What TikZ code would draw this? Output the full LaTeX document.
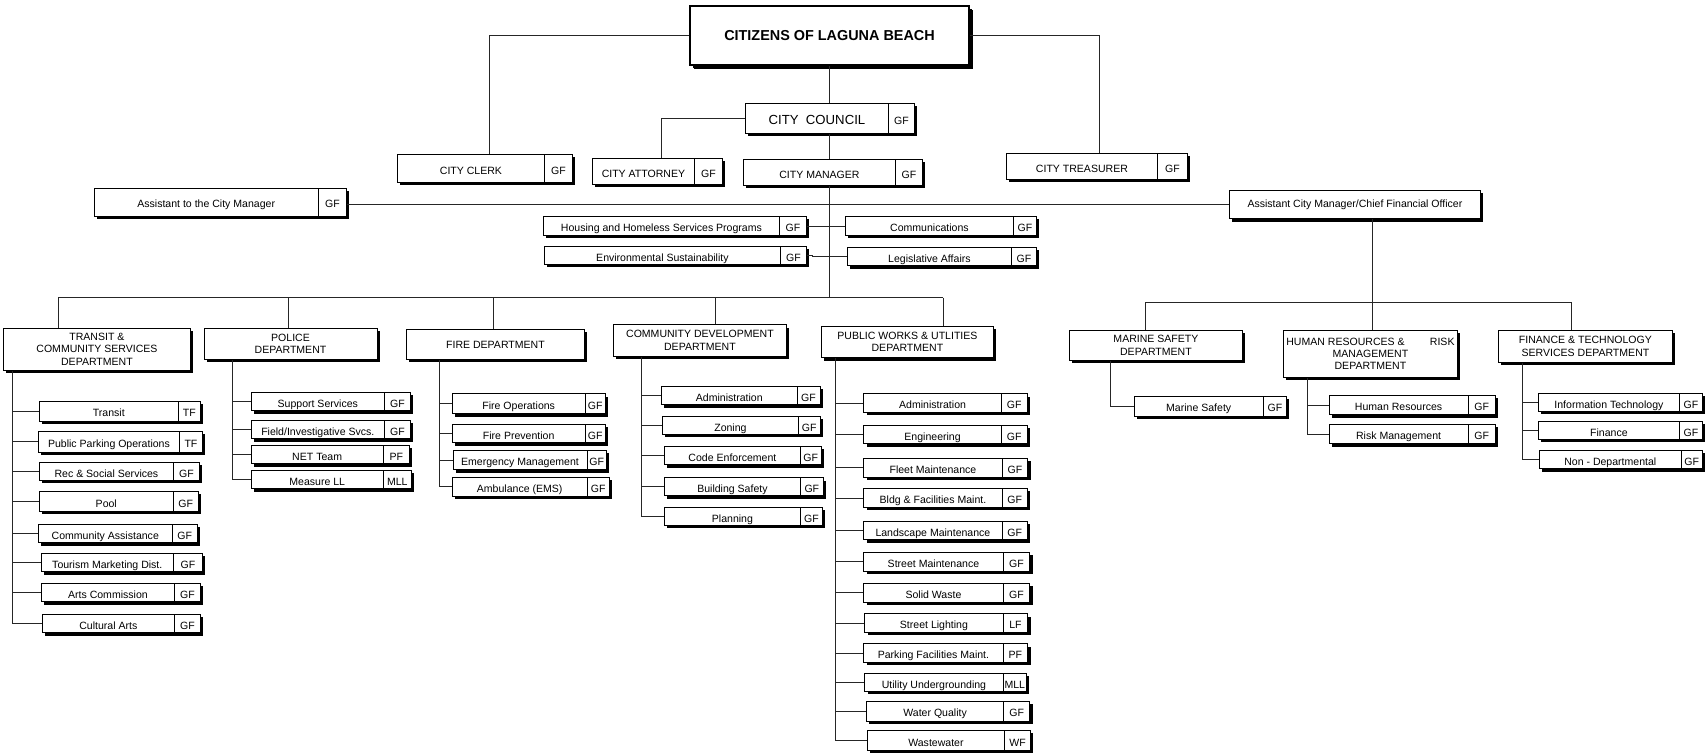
\documentclass[tikz,border=0pt]{standalone}
\usepackage{fontspec}
\setmainfont{Liberation Sans}
\usetikzlibrary{shadows,calc}

\tikzset{
  box/.style={draw, fill=white, line width=0.5pt, inner sep=0pt, align=center,
    font=\fontsize{6}{7}\selectfont,
    drop shadow={shadow xshift=0.06cm, shadow yshift=-0.06cm, fill=black, opacity=1}},
  cell/.style={box, text height=1.6ex, text depth=0.35ex},
  topbox/.style={box, line width=1.3pt, font=\bfseries\fontsize{8.2}{10}\selectfont,
    drop shadow={shadow xshift=0.08cm, shadow yshift=-0.08cm, fill=black, opacity=1}},
  link/.style={draw=black!85, line width=0.5pt},
}

% unit with a fund cell: name, left, top, divider, right, bottom, label, fund
\newcommand{\orgbox}[8]{%
  \pgfmathsetmacro\bwa{(#4-#2)*0.02}%
  \pgfmathsetmacro\bwb{(#5-#4)*0.02}%
  \pgfmathsetmacro\bht{(#6-#3)*0.02}%
  \node[cell, minimum width=\bwa cm, minimum height=\bht cm, anchor=north west] (#1) at (#2,#3) {#7};
  \node[cell, minimum width=\bwb cm, minimum height=\bht cm, anchor=north west] (#1-c) at (#4,#3) {#8};
}
% department heading: name, left, top, right, bottom, label
\newcommand{\deptbox}[6]{%
  \pgfmathsetmacro\bwa{(#4-#2)*0.02}%
  \pgfmathsetmacro\bht{(#5-#3)*0.02}%
  \node[box, minimum width=\bwa cm, minimum height=\bht cm, anchor=north west] (#1) at (#2,#3) {#6};
}

\begin{document}
\begin{tikzpicture}[x=0.02cm, y=-0.02cm]
    % page
    \fill[white] (0,0) rectangle (1705,755);
    \useasboundingbox (0,0) rectangle (1705,755);

    % Top of the chart
    \node[topbox, minimum width=5.58cm, minimum height=1.18cm] (citizens) at (829.5,35.5) {CITIZENS OF LAGUNA BEACH};
    \orgbox{council}{745}{103}{888}{914}{132.7}{\fontsize{7.5}{9}\selectfont CITY\ \ COUNCIL}{GF}
    \orgbox{clerk}{397}{154}{544}{572}{182}{CITY CLERK}{GF}
    \orgbox{attorney}{592}{158}{694}{722}{184}{CITY ATTORNEY}{GF}
    \orgbox{manager}{743}{159}{895}{922}{185}{CITY MANAGER}{GF}
    \orgbox{treasurer}{1006}{153}{1157}{1187}{179}{CITY TREASURER}{GF}

    \draw[link] (citizens.west) -| ($(clerk.north west)+(92,0)$);
    \draw[link] (citizens.east) -| ($(treasurer.north west)+(93,0)$);
    \draw[link] (citizens.south) -- (citizens.south |- council.north);
    \draw[link] (council.west) -| ($(attorney.north west)+(69,0)$);
    \draw[link] (citizens.south |- council.south) -- (citizens.south |- manager.north);

    % Offices of the City Manager
    \orgbox{asst}{93.5}{187.5}{318}{346}{215.7}{Assistant to the City Manager}{GF}
    \deptbox{acm}{1229}{190}{1480}{218.3}{Assistant City Manager/Chief Financial Officer}
    \orgbox{housing}{543}{216}{779}{806}{235}{Housing and Homeless Services Programs}{GF}
    \orgbox{comms}{845}{216}{1013}{1036}{235}{Communications}{GF}
    \orgbox{env}{544}{245.7}{780}{806}{263.3}{Environmental Sustainability}{GF}
    \orgbox{legis}{847}{246.7}{1011}{1036}{265.3}{Legislative Affairs}{GF}

    \coordinate (bus) at (829.5,297.5);
    \draw[link] (citizens.south |- manager.south) -- (bus);
    \draw[link] (acm.west -| asst-c.east) -- (acm.west);
    \draw[link] (housing-c.east) -- (comms.west);
    \draw[link] (env-c.east) -- ++(6,0) |- (legis.west);

    % Departments
    \deptbox{transit}{3}{327.7}{190}{370}{TRANSIT \&\\COMMUNITY SERVICES\\DEPARTMENT}
    \deptbox{police}{203.5}{327.7}{376.6}{359}{POLICE\\DEPARTMENT}
    \deptbox{fire}{406}{329}{584}{359}{FIRE DEPARTMENT}
    \deptbox{cd}{613}{324.3}{786}{355.7}{COMMUNITY DEVELOPMENT\\DEPARTMENT}
    \deptbox{pw}{821}{325.7}{993}{357.3}{PUBLIC WORKS \& UTLITIES\\DEPARTMENT}
    \deptbox{marine}{1069}{330}{1242}{360}{MARINE SAFETY\\DEPARTMENT}
    \deptbox{hr}{1283}{330}{1457}{376.7}{HUMAN RESOURCES \&\hspace{2.4em}RISK\\MANAGEMENT\\DEPARTMENT}
    \deptbox{fintech}{1498}{330}{1672}{361.7}{FINANCE \& TECHNOLOGY\\SERVICES DEPARTMENT}

    \coordinate (transit-in) at ($(transit.north west)+(55,0)$);
    \coordinate (police-in) at ($(police.north west)+(85,0)$);
    \coordinate (fire-in) at ($(fire.north west)+(87,0)$);
    \coordinate (cd-in) at ($(cd.north west)+(102,0)$);
    \coordinate (pw-in) at ($(pw.north west)+(122,0)$);
    \coordinate (marine-in) at ($(marine.north west)+(76,0)$);
    \coordinate (hr-in) at ($(hr.north west)+(89.5,0)$);
    \coordinate (fintech-in) at ($(fintech.north west)+(73,0)$);

    \draw[link] (transit-in |- bus) -- (pw-in |- bus);
    \foreach \d in {transit,police,fire,cd,pw}
        \draw[link] (\d-in |- bus) -- (\d-in);
    \coordinate (rbus) at ($(hr-in)+(0,-27.7)$);
    \draw[link] (acm.south -| hr-in) -- (hr-in);
    \draw[link] (marine-in |- rbus) -- (fintech-in |- rbus);
    \foreach \d in {marine,fintech}
        \draw[link] (\d-in |- rbus) -- (\d-in);

    % Transit & Community Services
    \orgbox{transitsvc}{39}{400.7}{177.7}{200}{420.7}{Transit}{TF}
    \orgbox{parking}{38}{431}{179}{202}{451.7}{Public Parking Operations}{TF}
    \orgbox{rec}{39}{461.7}{173}{199}{479}{Rec \& Social Services}{GF}
    \orgbox{pool}{39}{491}{172.7}{198}{511}{Pool}{GF}
    \orgbox{assist}{38}{524}{171.7}{197}{541.7}{Community Assistance}{GF}
    \orgbox{tourism}{40.7}{553}{173}{202}{570.7}{Tourism Marketing Dist.}{GF}
    \orgbox{arts}{41}{583}{174}{200}{600}{Arts Commission}{GF}
    \orgbox{cultural}{41.7}{614}{174}{200}{631.7}{Cultural Arts}{GF}
    \coordinate (transit-sp) at ($(transit.south west)+(9,0)$);
    \draw[link] (transit-sp) |- (cultural.west);
    \foreach \s in {transitsvc,parking,rec,pool,assist,tourism,arts}
        \draw[link] (transit-sp |- \s.west) -- (\s.west);

    % Police
    \orgbox{support}{250.7}{392}{384}{410}{410}{Support Services}{GF}
    \orgbox{field}{250.7}{420}{384}{410}{438.3}{Field/Investigative Svcs.}{GF}
    \orgbox{netteam}{250.7}{445}{382.7}{409}{461.7}{NET Team}{PF}
    \orgbox{measure}{250.7}{470}{383}{410.7}{487.3}{Measure LL}{MLL}
    \coordinate (police-sp) at ($(police.south west)+(28.5,0)$);
    \draw[link] (police-sp) |- (measure.west);
    \foreach \s in {support,field,netteam}
        \draw[link] (police-sp |- \s.west) -- (\s.west);

    % Fire
    \orgbox{fireops}{452}{393.3}{584.5}{605}{413.3}{Fire Operations}{GF}
    \orgbox{fireprev}{452}{424}{584.5}{605}{441.7}{Fire Prevention}{GF}
    \orgbox{emerg}{452.6}{450}{586.5}{606}{469.3}{Emergency Management}{GF}
    \orgbox{ambul}{452}{476.7}{586.5}{609}{496}{Ambulance (EMS)}{GF}
    \coordinate (fire-sp) at ($(fire.south west)+(33,0)$);
    \draw[link] (fire-sp) |- (ambul.west);
    \foreach \s in {fireops,fireprev,emerg}
        \draw[link] (fire-sp |- \s.west) -- (\s.west);

    % Community Development
    \orgbox{cdadmin}{661}{386}{796.7}{819.5}{402.7}{Administration}{GF}
    \orgbox{zoning}{662}{415.7}{798}{819.5}{434}{Zoning}{GF}
    \orgbox{code}{664}{445.7}{800}{820.7}{464.3}{Code Enforcement}{GF}
    \orgbox{bsafety}{664}{477.3}{800}{822.8}{495}{Building Safety}{GF}
    \orgbox{planning}{664}{506.7}{800}{822}{525}{Planning}{GF}
    \coordinate (cd-sp) at ($(cd.south west)+(28,0)$);
    \draw[link] (cd-sp) |- (planning.west);
    \foreach \s in {cdadmin,zoning,code,bsafety}
        \draw[link] (cd-sp |- \s.west) -- (\s.west);

    % Public Works & Utilities
    \orgbox{pwadmin}{863.3}{393.3}{1001}{1026.7}{411.7}{Administration}{GF}
    \orgbox{engin}{863.3}{425}{1001}{1026.7}{442.7}{Engineering}{GF}
    \orgbox{fleet}{863.3}{457.7}{1001.7}{1027.3}{476.7}{Fleet Maintenance}{GF}
    \orgbox{bldg}{863.3}{488}{1001.7}{1026.7}{507}{Bldg \& Facilities Maint.}{GF}
    \orgbox{landsc}{863.3}{520.7}{1001.7}{1026.7}{539.3}{Landscape Maintenance}{GF}
    \orgbox{street}{863.3}{551.7}{1002.7}{1029.3}{571}{Street Maintenance}{GF}
    \orgbox{solid}{863.3}{582.7}{1002.7}{1029.3}{601.7}{Solid Waste}{GF}
    \orgbox{lighting}{864.3}{613.3}{1002.7}{1027.3}{631.7}{Street Lighting}{LF}
    \orgbox{pfmaint}{863.3}{643.3}{1002.7}{1027.3}{661.7}{Parking Facilities Maint.}{PF}
    \orgbox{underg}{864.3}{672.7}{1002.7}{1026}{690}{Utility Undergrounding}{MLL}
    \orgbox{water}{866}{700.7}{1003.3}{1029.3}{720.7}{Water Quality}{GF}
    \orgbox{wastew}{866.7}{730}{1004.3}{1030}{750}{Wastewater}{WF}
    \coordinate (pw-sp) at ($(pw.south west)+(14.5,0)$);
    \draw[link] (pw-sp) |- (wastew.west);
    \foreach \s in {pwadmin,engin,fleet,bldg,landsc,street,solid,lighting,pfmaint,underg,water}
        \draw[link] (pw-sp |- \s.west) -- (\s.west);

    % Marine Safety
    \orgbox{msafety}{1133.5}{395.7}{1263}{1286}{415.7}{Marine Safety}{GF}
    \coordinate (marine-sp) at ($(marine.south west)+(41,0)$);
    \draw[link] (marine-sp) |- (msafety.west);

    % Human Resources & Risk Management
    \orgbox{hres}{1328.6}{395}{1467.7}{1494.8}{414.3}{Human Resources}{GF}
    \orgbox{risk}{1328.6}{424}{1467.7}{1494.8}{443.3}{Risk Management}{GF}
    \coordinate (hr-sp) at ($(hr.south west)+(24,0)$);
    \draw[link] (hr-sp) |- (risk.west);
    \draw[link] (hr-sp |- hres.west) -- (hres.west);

    % Finance & Technology
    \orgbox{infotech}{1538}{392.7}{1679}{1702}{408.3}{Information Technology}{GF}
    \orgbox{finance}{1538}{420.7}{1679}{1702}{437.3}{Finance}{GF}
    \orgbox{nondept}{1539}{450}{1680.7}{1702}{466}{Non - Departmental}{GF}
    \coordinate (fintech-sp) at ($(fintech.south west)+(24.7,0)$);
    \draw[link] (fintech-sp) |- (nondept.west);
    \foreach \s in {infotech,finance}
        \draw[link] (fintech-sp |- \s.west) -- (\s.west);
\end{tikzpicture}
\end{document}
